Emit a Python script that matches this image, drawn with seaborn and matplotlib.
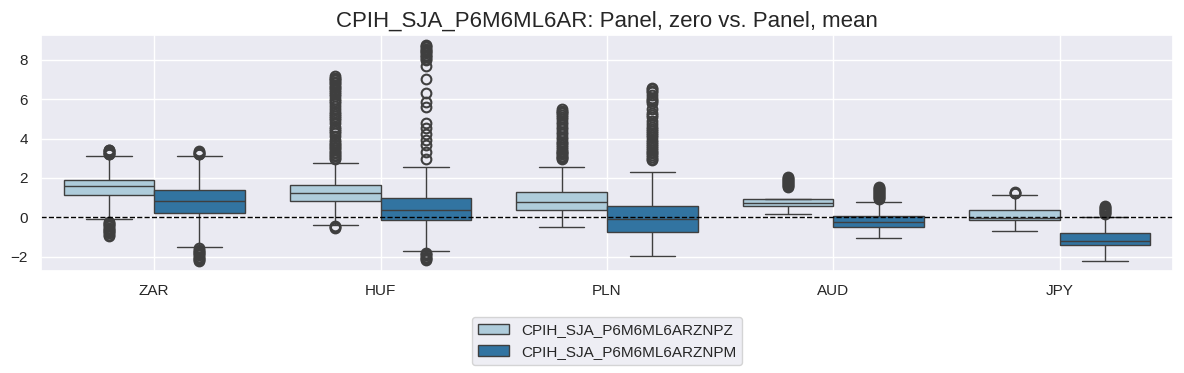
import numpy as np
import pandas as pd
import matplotlib
matplotlib.use("Agg")
import matplotlib.pyplot as plt
import seaborn as sns

# ---- data ----
currencies = ["ZAR", "HUF", "PLN", "AUD", "JPY"]
series_names = ["CPIH_SJA_P6M6ML6ARZNPZ", "CPIH_SJA_P6M6ML6ARZNPM"]

# box statistics per currency: (whisker low, q1, median, q3, whisker high)
zero_stats = [
    (-0.10, 1.11, 1.58, 1.92, 3.12),
    (-0.37, 0.82, 1.22, 1.62, 2.74),
    (-0.47, 0.39, 0.80, 1.31, 2.55),
    (0.15, 0.56, 0.75, 0.94, 1.53),
    (-0.68, -0.12, -0.01, 0.39, 1.12),
]
mean_stats = [
    (-1.50, 0.24, 0.85, 1.41, 3.11),
    (-1.73, -0.12, 0.39, 1.00, 2.55),
    (-1.96, -0.73, -0.10, 0.55, 2.28),
    (-1.03, -0.51, -0.26, 0.07, 0.80),
    (-2.24, -1.39, -1.19, -0.78, 0.03),
]

zero_outliers = [
    [3.20, 3.24, 3.28, 3.32, 3.36, 3.40, 3.44,
     -0.22, -0.28, -0.34, -0.40, -0.46, -0.52, -0.58, -0.64, -0.70, -0.76, -0.82, -0.88, -0.94],
    [7.16, 7.10, 7.04, 6.98, 6.90, 6.82, 6.73, 6.64, 6.55, 6.47, 6.39, 6.28, 6.15, 6.04,
     5.92, 5.80, 5.65, 5.50, 5.37, 5.26, 5.15, 5.05, 4.95, 4.80, 4.61, 4.50, 4.40, 4.27,
     4.12, 3.93, 3.84, 3.75, 3.66, 3.59, 3.50, 3.40, 3.32, 3.25, 3.18, 3.10, 3.04, 2.99,
     -0.45, -0.50, -0.55],
    [5.49, 5.42, 5.36, 5.30, 5.22, 5.12, 5.00, 4.85, 4.74, 4.61, 4.50, 4.35, 4.22, 4.10,
     3.98, 3.85, 3.76, 3.67, 3.56, 3.45, 3.39, 3.33, 3.26, 3.20, 3.14, 3.08, 3.03, 2.99],
    [1.58, 1.63, 1.68, 1.73, 1.78, 1.83, 1.88, 1.93, 1.98, 2.03],
    [1.22, 1.26, 1.30],
]
mean_outliers = [
    [3.20, 3.24, 3.28, 3.32, 3.36,
     -1.58, -1.64, -1.70, -1.76, -1.82, -1.88, -1.94, -2.00, -2.06, -2.12, -2.18, -2.22],
    [8.78, 8.72, 8.65, 8.58, 8.52, 8.46, 8.40, 8.33, 8.27, 8.20, 8.14, 8.07, 8.01, 7.67,
     7.02, 6.31, 5.88, 5.63, 4.81, 4.52, 4.23, 3.93, 3.67, 3.33, 2.94,
     -1.82, -1.88, -1.94, -2.00, -2.06, -2.12, -2.17],
    [6.56, 6.50, 6.42, 6.35, 6.20, 6.05, 5.97, 5.90, 5.80, 5.50, 5.29, 5.20, 5.10, 4.90,
     4.75, 4.61, 4.50, 4.40, 4.30, 4.20, 4.10, 3.93, 3.85, 3.75, 3.62, 3.50, 3.40, 3.30,
     3.25, 3.15, 3.05, 2.98, 2.91],
    [0.95, 1.00, 1.05, 1.10, 1.15, 1.20, 1.25, 1.30, 1.35, 1.40, 1.45, 1.50, 1.52],
    [0.18, 0.23, 0.28, 0.33, 0.38, 0.42, 0.46, 0.50, 0.55],
]

# ---- build long-form table (box body values repeated so the quartiles match) ----
REP = 200
rows = []
for name, stats_list, outs_list in [(series_names[0], zero_stats, zero_outliers),
                                    (series_names[1], mean_stats, mean_outliers)]:
    for cur, st, outs in zip(currencies, stats_list, outs_list):
        wl, q1, med, q3, wh = st
        vals = [wl] + [q1] * REP + [med] * REP + [q3] * REP + [wh] + list(outs)
        for v in vals:
            rows.append((cur, name, v))
df = pd.DataFrame(rows, columns=["currency", "series", "value"])

sns.set_theme(style="darkgrid")
plt.rcParams["font.family"] = ["Liberation Sans", "DejaVu Sans"]

fig, ax = plt.subplots(figsize=(11.84, 3.73), dpi=100)
fig.subplots_adjust(left=41 / 1184, right=1173 / 1184, top=1 - 35 / 373, bottom=1 - 271 / 373)

sns.boxplot(data=df, x="currency", y="value", hue="series", order=currencies,
            hue_order=series_names, palette="Paired", ax=ax,
            flierprops=dict(markersize=7, markeredgewidth=1.5))
ax.axhline(0, color="black", linestyle="--", linewidth=1)
ax.set_ylim(-2.73, 9.27)
ax.set_yticks([-2, 0, 2, 4, 6, 8])
ax.xaxis.grid(True)
ax.set_axisbelow(True)
ax.set_xlabel("")
ax.set_ylabel("")
ax.set_title("CPIH_SJA_P6M6ML6AR: Panel, zero vs. Panel, mean", fontsize=16)
sns.move_legend(ax, "upper center", bbox_to_anchor=(0.5, -0.163), title=None, frameon=True)

fig.savefig("out.png", dpi=100)
